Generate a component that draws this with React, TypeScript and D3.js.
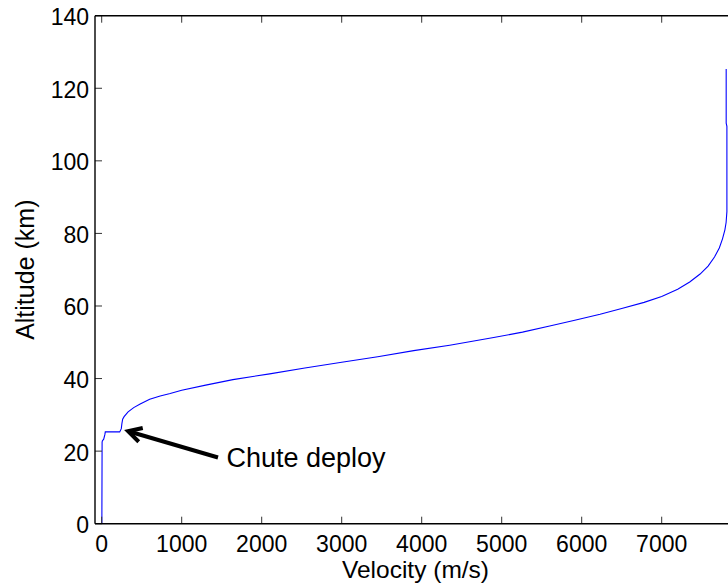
import React from "react";
import * as d3 from "d3";

const velocity = [7806, 7806, 7815, 7815, 7805, 7790, 7760, 7720, 7660, 7580, 7480, 7350, 7200, 7000, 6780, 6500, 6230, 5900, 5600, 5260, 4900, 4350, 3900, 3450, 3000, 2540, 2100, 1640, 1300, 1000, 856, 731, 600, 481, 400, 330, 280, 262, 252, 245, 225, 150, 45, 40, 25, 8, 5, 2];
const altitude = [125.3, 110.4, 109.5, 86, 83, 81, 78.5, 76, 73.5, 71, 68.8, 66.6, 64.6, 62.6, 61.0, 59.3, 57.7, 56.0, 54.5, 52.8, 51.3, 49.2, 47.7, 46.0, 44.5, 42.9, 41.3, 39.7, 38.2, 36.8, 35.9, 35.2, 34.3, 33.0, 32.0, 30.8, 29.5, 28.8, 27.5, 26.2, 25.3, 25.3, 25.3, 24.6, 23.3, 22.8, 22.4, 0];
const xTicks = [0, 1000, 2000, 3000, 4000, 5000, 6000, 7000];
const yTicks = [0, 20, 40, 60, 80, 100, 120, 140];
const xLabel = "Velocity (m/s)";
const yLabel = "Altitude (km)";
const annotation = "Chute deploy";
const annotationPoint = [330, 25.5];

const W = 728;
const H = 588;
const left = 95;
const right = 736;
const top = 15.7;
const bottom = 523.7;

export default function App() {
  const x = d3.scaleLinear().domain([0, 7000]).range([101.7, 661.7]);
  const y = d3.scaleLinear().domain([0, 140]).range([bottom, top]);
  const pts = velocity.map((v, i) => [v, altitude[i]] as [number, number]);
  const line = d3
    .line<[number, number]>()
    .x((d) => x(d[0]))
    .y((d) => y(d[1]));
  const font = "'Liberation Sans', Arial, Helvetica, sans-serif";
  const tipX = x(annotationPoint[0]);
  const tipY = y(annotationPoint[1]);
  const tailX = 218;
  const tailY = 457.5;
  const ang = Math.atan2(tailY - tipY, tailX - tipX);
  const wing = 15;
  const spread = 0.5;
  const w1 = [tipX + wing * Math.cos(ang - spread), tipY + wing * Math.sin(ang - spread)];
  const w2 = [tipX + wing * Math.cos(ang + spread), tipY + wing * Math.sin(ang + spread)];
  return (
    <svg width={W} height={H} style={{ position: "absolute", left: 0, top: 0, background: "#fff" }}>
      <defs>
        <clipPath id="plot">
          <rect x={left} y={top} width={right - left} height={bottom - top} />
        </clipPath>
      </defs>
      <rect x={0} y={0} width={W} height={H} fill="#fff" />
      <g clipPath="url(#plot)">
        <path d={line(pts) || ""} fill="none" stroke="#0000ff" strokeWidth={1.1} />
      </g>
      {xTicks.map((t) => (
        <g key={"x" + t}>
          <line x1={x(t)} x2={x(t)} y1={bottom} y2={bottom - 7} stroke="#333" strokeWidth={1} />
          <line x1={x(t)} x2={x(t)} y1={top} y2={top + 7} stroke="#333" strokeWidth={1} />
          <text x={x(t)} y={552} textAnchor="middle" fontFamily={font} fontSize={23} fill="#000">
            {t}
          </text>
        </g>
      ))}
      {yTicks.map((t) => (
        <g key={"y" + t}>
          <line x1={left} x2={left + 7} y1={y(t)} y2={y(t)} stroke="#333" strokeWidth={1} />
          <text x={89} y={y(t) + 9.5} textAnchor="end" fontFamily={font} fontSize={23} fill="#000">
            {t}
          </text>
        </g>
      ))}
      <line x1={left} x2={right} y1={bottom} y2={bottom} stroke="#000" strokeWidth={1.4} />
      <line x1={left} x2={right} y1={top} y2={top} stroke="#000" strokeWidth={1.4} />
      <line x1={left} x2={left} y1={top} y2={bottom} stroke="#000" strokeWidth={1.4} />
      <line x1={right} x2={right} y1={top} y2={bottom} stroke="#000" strokeWidth={1.4} />
      <text x={(left + right) / 2} y={578} textAnchor="middle" fontFamily={font} fontSize={24.5} fill="#000">
        {xLabel}
      </text>
      <text
        transform={`translate(33.5, ${(top + bottom) / 2}) rotate(-90)`}
        textAnchor="middle"
        fontFamily={font}
        fontSize={25}
        fill="#000"
      >
        {yLabel}
      </text>
      <line x1={tailX} y1={tailY} x2={tipX + 2} y2={tipY + 0.6} stroke="#000" strokeWidth={4} />
      <polyline
        points={`${w1[0]},${w1[1]} ${tipX},${tipY} ${w2[0]},${w2[1]}`}
        fill="none"
        stroke="#000"
        strokeWidth={4}
        strokeLinejoin="miter"
      />
      <text x={226.5} y={466.7} fontFamily={font} fontSize={27} fill="#000">
        {annotation}
      </text>
    </svg>
  );
}
